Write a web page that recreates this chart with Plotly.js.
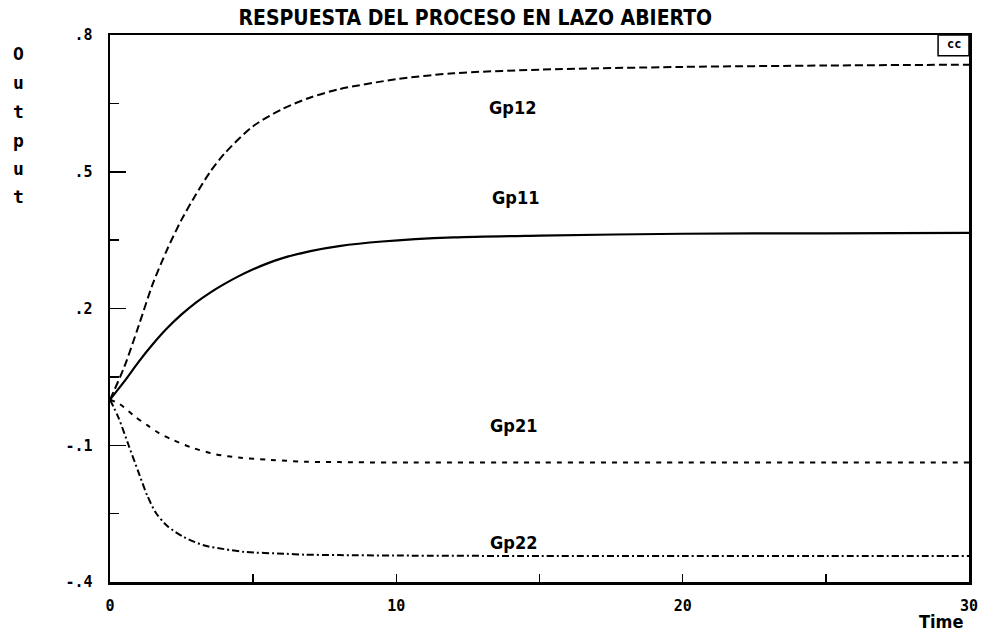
<!DOCTYPE html>
<html>
<head>
<meta charset="utf-8">
<script src="https://cdn.plot.ly/plotly-3.0.1.min.js"></script>
<style>html,body{margin:0;padding:0;background:#fff;}#chart{width:984px;height:642px;}</style>
</head>
<body>
<div id="chart"></div>
<script>
// Time samples
const tGp11 = [0, 0.5, 1, 1.5, 2, 2.5, 3, 3.5, 4, 4.5, 5, 5.5, 6, 7, 8, 9.5, 12, 15, 20, 25, 30];
const yGp11 = [0, 0.04, 0.083, 0.122, 0.157, 0.187, 0.213, 0.235, 0.254, 0.271, 0.286, 0.299, 0.31, 0.326, 0.337, 0.347, 0.356, 0.36, 0.364, 0.365, 0.366];

const tGp12 = [0, 0.5, 1, 1.5, 2, 2.5, 3, 3.5, 4, 5, 6, 7, 8, 10, 12, 15, 20, 25, 30];
const yGp12 = [0, 0.072, 0.162, 0.255, 0.33, 0.395, 0.45, 0.5, 0.54, 0.6, 0.637, 0.663, 0.681, 0.703, 0.716, 0.724, 0.73, 0.733, 0.735];

const tGp21 = [0, 0.35, 0.87, 1.3, 1.7, 2.15, 2.85, 3.7, 4.5, 5.6, 6.8, 8, 10, 15, 20, 25, 30];
const yGp21 = [0, -0.01, -0.037, -0.056, -0.073, -0.087, -0.105, -0.12, -0.127, -0.132, -0.136, -0.137, -0.138, -0.138, -0.138, -0.138, -0.138];

const tGp22 = [0, 0.3, 0.65, 1, 1.3, 1.6, 2, 2.6, 3.3, 4, 4.7, 6.1, 6.8, 8, 10, 15, 20, 25, 30];
const yGp22 = [0, -0.04, -0.1, -0.16, -0.21, -0.248, -0.277, -0.302, -0.32, -0.328, -0.334, -0.338, -0.34, -0.341, -0.342, -0.343, -0.343, -0.343, -0.343];

const xTickVals = [0, 10, 20, 30];
const xTickText = ['0', '10', '20', '30'];
const yTickVals = [0.8, 0.5, 0.2, -0.1, -0.4];
const yTickText = ['.8', '.5', '.2', '-.1', '-.4'];

const seriesNames = ['Gp12', 'Gp11', 'Gp21', 'Gp22'];
const labelX = [14.05, 14.15, 14.1, 14.1];
const labelY = [0.64, 0.444, -0.057, -0.314];

const titleText = 'RESPUESTA DEL PROCESO EN LAZO ABIERTO';
const yTitleLetters = ['O', 'u', 't', 'p', 'u', 't'];
const xTitleText = 'Time';

const FONT_T = '"Liberation Sans Narrow", "DejaVu Sans Condensed", sans-serif';
const FONT_M = '"DejaVu Sans Mono", monospace';

const lineBase = {color: '#000', width: 2};
const traces = [
  {x: tGp11, y: yGp11, mode: 'lines', line: Object.assign({}, lineBase, {dash: 'solid', shape: 'spline', smoothing: 0.8, width: 2.2}), name: 'Gp11'},
  {x: tGp12, y: yGp12, mode: 'lines', line: Object.assign({}, lineBase, {dash: '8px,4px', shape: 'spline', smoothing: 0.8}), name: 'Gp12'},
  {x: tGp21, y: yGp21, mode: 'lines', line: Object.assign({}, lineBase, {dash: '5px,6px', shape: 'spline', smoothing: 0.8}), name: 'Gp21'},
  {x: tGp22, y: yGp22, mode: 'lines', line: Object.assign({}, lineBase, {dash: '7px,3px,2px,3px', shape: 'spline', smoothing: 0.8}), name: 'Gp22'}
];

const bold = s => '<b>' + s + '</b>';
const annotations = [];
seriesNames.forEach((n, i) => {
  annotations.push({x: labelX[i], y: labelY[i], xref: 'x', yref: 'y', text: bold(n), showarrow: false,
    font: {family: FONT_T, size: 18, color: '#000'}});
});
// stacked y-axis title
const letterPx = [53, 82, 111, 140, 168, 196];
yTitleLetters.forEach((ch, i) => {
  annotations.push({x: -0.107, y: (582 - letterPx[i]) / 547, xref: 'paper', yref: 'paper', text: bold(ch),
    showarrow: false, xanchor: 'center', yanchor: 'middle', font: {family: FONT_M, size: 18, color: '#000'}});
});
annotations.push({x: 0.967, y: -0.072, xref: 'paper', yref: 'paper', text: bold(xTitleText), showarrow: false,
  xanchor: 'center', yanchor: 'middle', font: {family: FONT_T, size: 18, color: '#000'}});
annotations.push({x: 0.982, y: 0.983, xref: 'paper', yref: 'paper', text: bold('cc'), showarrow: false,
  xanchor: 'center', yanchor: 'middle', font: {family: FONT_M, size: 12, color: '#000'}});

const layout = {
  width: 984, height: 642,
  paper_bgcolor: '#fff', plot_bgcolor: '#fff',
  margin: {l: 110, r: 15, t: 35, b: 60},
  showlegend: false,
  title: {text: bold(titleText), x: 0.483, xref: 'container', xanchor: 'center', y: 0.972, yref: 'container', yanchor: 'middle',
    font: {family: FONT_T, size: 21, color: '#000'}},
  xaxis: {range: [0, 30], tickvals: xTickVals, ticktext: xTickText.map(bold), ticks: 'inside', ticklen: 8, tickwidth: 1.5, tickcolor: '#000',
    minor: {dtick: 5, tick0: 0, ticks: 'inside', ticklen: 8, tickwidth: 1.5, tickcolor: '#000'},
    showline: true, linewidth: 2.5, linecolor: '#000', mirror: true, showgrid: false, zeroline: false,
    ticklabelstandoff: 8, tickfont: {family: FONT_M, size: 15, color: '#000'}},
  yaxis: {range: [-0.4, 0.8], tickvals: yTickVals, ticktext: yTickText.map(bold), ticks: 'inside', ticklen: 16, tickwidth: 1.5, tickcolor: '#000',
    minor: {dtick: 0.15, tick0: -0.4, ticks: 'inside', ticklen: 9, tickwidth: 1.5, tickcolor: '#000'},
    showline: true, linewidth: 2.5, linecolor: '#000', mirror: true, showgrid: false, zeroline: false,
    ticklabelstandoff: 12, tickfont: {family: FONT_M, size: 15, color: '#000'}},
  annotations: annotations,
  shapes: [{type: 'rect', xref: 'paper', yref: 'paper', x0: 0.964, x1: 1, y0: 0.962, y1: 1, line: {color: '#000', width: 1.5}, fillcolor: 'rgba(0,0,0,0)'}]
};

Plotly.newPlot('chart', traces, layout, {displayModeBar: false, staticPlot: true});
</script>
</body>
</html>
